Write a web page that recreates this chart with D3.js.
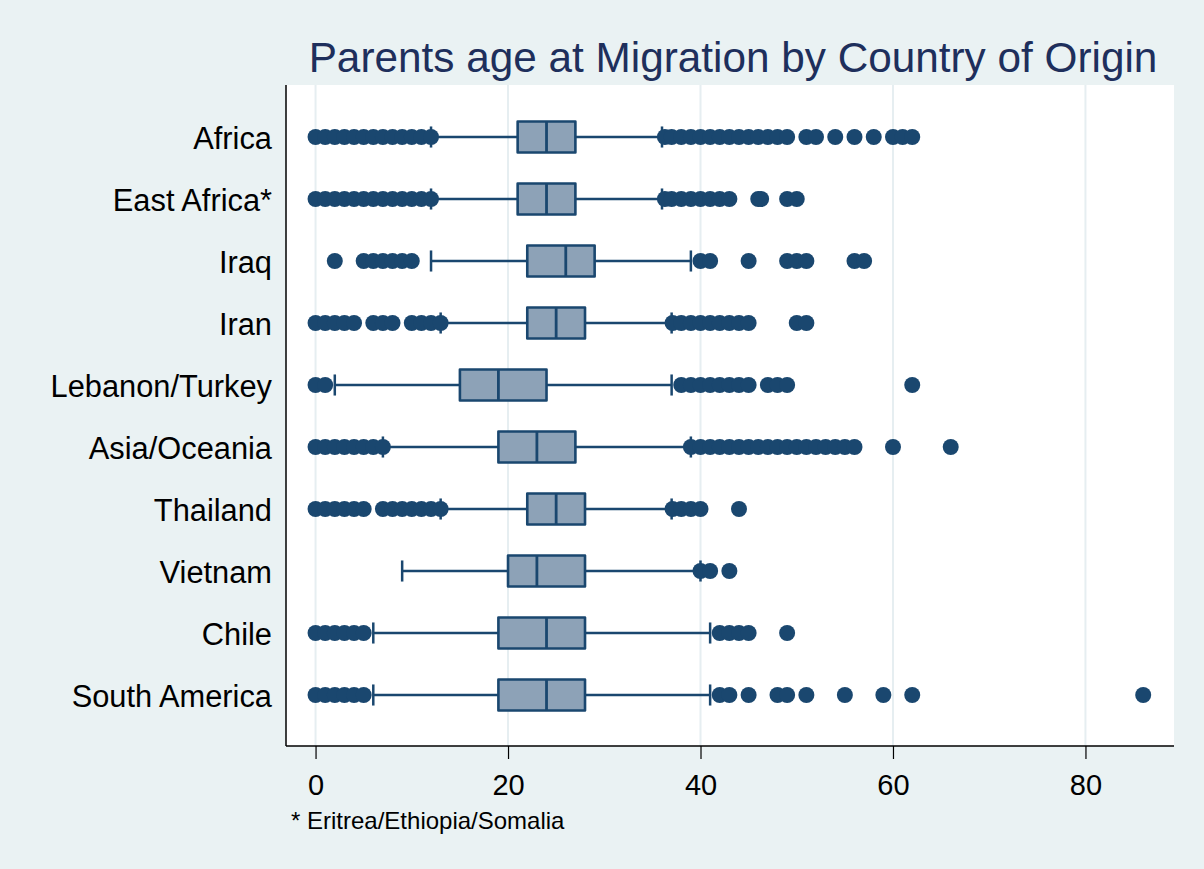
<!DOCTYPE html>
<html>
<head>
<meta charset="utf-8">
<script src="https://cdn.jsdelivr.net/npm/d3@7"></script>
<style>
  html, body { margin: 0; padding: 0; background: #EAF2F3; }
  svg { display: block; }
  text { font-family: "Liberation Sans", Arial, Helvetica, sans-serif; }
</style>
</head>
<body>
<svg id="chart" width="1204" height="869"></svg>
<script>
// Box plot summary of parents' age at migration, by country of origin
const categories = ["Africa", "East Africa*", "Iraq", "Iran", "Lebanon/Turkey",
                    "Asia/Oceania", "Thailand", "Vietnam", "Chile", "South America"];
const q1Values      = [21, 21, 22, 22, 15, 19, 22, 20, 19, 19];
const medianValues  = [24, 24, 26, 25, 19, 23, 25, 23, 24, 24];
const q3Values      = [27, 27, 29, 28, 24, 27, 28, 28, 28, 28];
const lowerAdjacent = [12, 12, 12, 13,  2,  7, 13,  9,  6,  6];
const upperAdjacent = [36, 36, 39, 37, 37, 39, 37, 40, 41, 41];

// Observations outside the adjacent values, per category
const outsideValues = [
  [0,1,2,3,4,5,6,7,8,9,10,11,12,
   36.3,37,38,39,40,41,42,43,44,45,46,47,48,49,51,52,54,56,58,60,61,62],
  [0,1,2,3,4,5,6,7,8,9,10,11,12,
   36.3,37,38,39,40,41,42,43,46,46.3,49,50],
  [2,5,6,7,8,9,10, 40,41,45,49,50,51,56,57],
  [0,1,2,3,4,6,7,8,10,11,12,13, 37.1,38,39,40,41,42,43,44,45,50,51],
  [0,1, 38,39,40,41,42,43,44,45,47,48,49,62],
  [0,1,2,3,4,5,6,7, 39,40,41,42,43,44,45,46,47,48,49,50,51,52,53,54,55,56,60,66],
  [0,1,2,3,4,5,7,8,9,10,11,12,13, 37.1,38,39,40,44],
  [40,41,43],
  [0,1,2,3,4,5, 42,43,44,45,49],
  [0,1,2,3,4,5, 42,43,45,48,49,51,55,59,62,86]
];

const xTicks = [0, 20, 40, 60, 80];
const titleText = "Parents age at Migration by Country of Origin";
const noteText = "* Eritrea/Ethiopia/Somalia";

const navy = "#1A476F";
const boxFill = "#8DA2B7";
const gridColor = "#E6EEF1";

const svg = d3.select("#chart");
const W = 1204, H = 869;
const plot = { left: 286, right: 1174, top: 85, bottom: 746 };

svg.append("rect").attr("width", W).attr("height", H).attr("fill", "#EAF2F3");
svg.append("rect")
  .attr("x", plot.left).attr("y", plot.top)
  .attr("width", plot.right - plot.left).attr("height", plot.bottom - plot.top)
  .attr("fill", "#FFFFFF");

const x = d3.scaleLinear().domain([-3.07, 89.2]).range([plot.left, plot.right]);
const y = d3.scalePoint().domain(categories).range([137, 695]);
const boxH = y.step() * 0.5;
const capH = y.step() * 0.34;

// vertical grid lines
svg.append("g").selectAll("line").data(xTicks).join("line")
  .attr("x1", d => x(d)).attr("x2", d => x(d))
  .attr("y1", plot.top).attr("y2", plot.bottom)
  .attr("stroke", gridColor).attr("stroke-width", 2);

const rows = categories.map((c, i) => ({
  cat: c, q1: q1Values[i], med: medianValues[i], q3: q3Values[i],
  lo: lowerAdjacent[i], hi: upperAdjacent[i], out: outsideValues[i]
}));

const g = svg.append("g");
const row = g.selectAll("g.row").data(rows).join("g").attr("class", "row");

// whiskers
row.append("line")
  .attr("x1", d => x(d.lo)).attr("x2", d => x(d.q1))
  .attr("y1", d => y(d.cat)).attr("y2", d => y(d.cat))
  .attr("stroke", navy).attr("stroke-width", 2.5);
row.append("line")
  .attr("x1", d => x(d.q3)).attr("x2", d => x(d.hi))
  .attr("y1", d => y(d.cat)).attr("y2", d => y(d.cat))
  .attr("stroke", navy).attr("stroke-width", 2.5);
// caps
row.append("line")
  .attr("x1", d => x(d.lo)).attr("x2", d => x(d.lo))
  .attr("y1", d => y(d.cat) - capH / 2).attr("y2", d => y(d.cat) + capH / 2)
  .attr("stroke", navy).attr("stroke-width", 2.5);
row.append("line")
  .attr("x1", d => x(d.hi)).attr("x2", d => x(d.hi))
  .attr("y1", d => y(d.cat) - capH / 2).attr("y2", d => y(d.cat) + capH / 2)
  .attr("stroke", navy).attr("stroke-width", 2.5);
// boxes
row.append("rect")
  .attr("x", d => x(d.q1)).attr("width", d => x(d.q3) - x(d.q1))
  .attr("y", d => y(d.cat) - boxH / 2).attr("height", boxH)
  .attr("fill", boxFill).attr("stroke", navy).attr("stroke-width", 2.6)
  .attr("stroke-linejoin", "round");
// medians
row.append("line")
  .attr("x1", d => x(d.med)).attr("x2", d => x(d.med))
  .attr("y1", d => y(d.cat) - boxH / 2).attr("y2", d => y(d.cat) + boxH / 2)
  .attr("stroke", navy).attr("stroke-width", 2.8);
// outside values
row.selectAll("circle").data(d => d.out.map(v => ({ v, cat: d.cat }))).join("circle")
  .attr("cx", d => x(d.v)).attr("cy", d => y(d.cat)).attr("r", 8)
  .attr("fill", navy);

// axes
const xAxis = svg.append("g")
  .attr("transform", `translate(0,${plot.bottom})`)
  .call(d3.axisBottom(x).tickValues(xTicks).tickSize(13).tickPadding(15).tickSizeOuter(0));
xAxis.select(".domain").remove();
xAxis.selectAll(".tick line").attr("stroke", "#000").attr("stroke-width", 1.2);
xAxis.selectAll(".tick text").attr("font-size", 29).attr("fill", "#000")
  .style("font-family", '"Liberation Sans", Arial, sans-serif');

const yAxis = svg.append("g")
  .attr("transform", `translate(${plot.left},0)`)
  .call(d3.axisLeft(y).tickSize(0).tickPadding(14));
yAxis.select(".domain").remove();
yAxis.selectAll(".tick text").attr("font-size", 30.8).attr("fill", "#000").attr("dy", "0.36em")
  .style("font-family", '"Liberation Sans", Arial, sans-serif');

svg.append("line")
  .attr("x1", plot.left).attr("x2", plot.left)
  .attr("y1", plot.top).attr("y2", plot.bottom)
  .attr("stroke", "#000").attr("stroke-width", 1.5);
svg.append("line")
  .attr("x1", plot.left).attr("x2", plot.right)
  .attr("y1", plot.bottom).attr("y2", plot.bottom)
  .attr("stroke", "#000").attr("stroke-width", 1.5);

// title and note
svg.append("text")
  .attr("x", (plot.left + plot.right) / 2 + 3).attr("y", 71.5)
  .attr("text-anchor", "middle").attr("font-size", 42.3).attr("fill", "#1E2F5C")
  .text(titleText);
svg.append("text")
  .attr("x", 291).attr("y", 829)
  .attr("font-size", 24).attr("fill", "#000")
  .text(noteText);
</script>
</body>
</html>
